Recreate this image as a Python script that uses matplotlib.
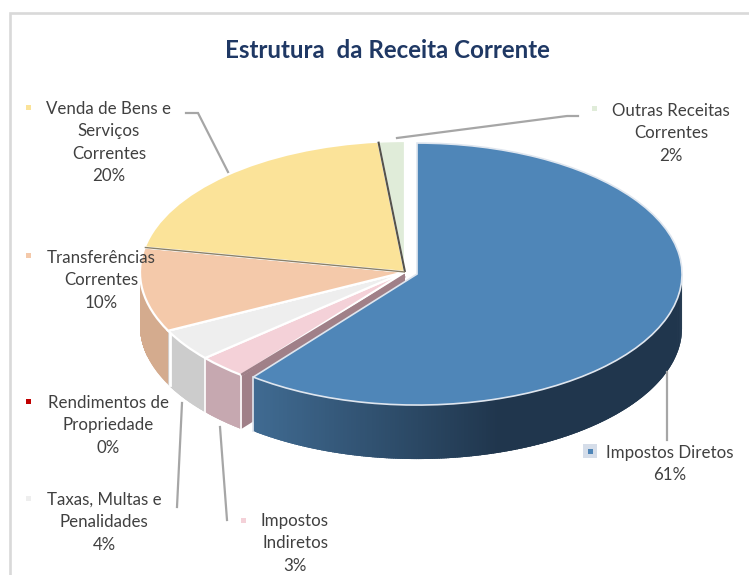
import numpy as np
import matplotlib
matplotlib.use("Agg")
import matplotlib.pyplot as plt
from matplotlib.patches import Polygon, Rectangle
from matplotlib.transforms import Affine2D
from matplotlib.colors import to_rgb

plt.rcParams['font.family'] = ['Lato', 'DejaVu Sans']

title = "Estrutura  da Receita Corrente"
categories = ["Impostos Diretos", "Impostos\nIndiretos", "Taxas, Multas e\nPenalidades",
              "Rendimentos de\nPropriedade", "Transferências\nCorrentes",
              "Venda de Bens e\nServiços\nCorrentes", "Outras Receitas\nCorrentes"]
values = [60.6, 3.0, 4.0, 0.0, 10.4, 20.4, 1.6]
top_colors = ["#4f86b8", "#f4d1d8", "#eeeeee", "#c00000", "#f4c9aa", "#fbe399", "#e0ecd9"]
wall_colors = ["#2f5070", "#c6a8b0", "#cccccc", "#990000", "#d4ab8e", "#c9b577", "#b4c0ae"]
explode = [0.048, 0, 0, 0, 0, 0, 0]

W, H = 749, 575
CX, CY, RX, RY, DEPTH = 405, 272, 265, 131, 54
START = 90.0

fig = plt.figure(figsize=(W / 100, H / 100), dpi=100, facecolor="white")
ax = fig.add_axes([0, 0, 1, 1])

vals = np.array(values, dtype=float)
fracs = vals / vals.sum()
ends = START - 360 * np.cumsum(fracs)
starts = np.r_[START, ends[:-1]]


def center_of(i):
    mid = np.radians((starts[i] + ends[i]) / 2)
    return CX + explode[i] * RX * np.cos(mid), CY - explode[i] * RY * np.sin(mid)


def point(i, deg):
    x0, y0 = center_of(i)
    t = np.radians(deg)
    return x0 + RX * np.cos(t), y0 - RY * np.sin(t)


def wall(i, a1, a2, gradient=None):
    """Outer wall between angles a1 and a2 (degrees), drawn as overlapping strips."""
    grid = np.linspace(a1, a2, int(abs(a2 - a1) * 2) + 2)
    step = grid[1] - grid[0]
    for a in grid[:-1]:
        b = min(a + 2.5 * step, a2)
        (xa, ya), (xb, yb) = point(i, a), point(i, b)
        xm, ym = point(i, (a + b) / 2)
        col = wall_colors[i] if gradient is None else gradient(xm)
        ax.add_patch(Polygon([(xa, ya), (xm, ym), (xb, yb), (xb, yb + DEPTH),
                              (xm, ym + DEPTH), (xa, ya + DEPTH)],
                             closed=True, fc=col, ec="none", zorder=2))


def radial_face(i, deg, color):
    x0, y0 = center_of(i)
    x1, y1 = point(i, deg)
    ax.add_patch(Polygon([(x0, y0), (x1, y1), (x1, y1 + DEPTH), (x0, y0 + DEPTH)],
                         closed=True, fc=color, ec="none", zorder=1.5))


light, dark = np.array(to_rgb("#406b92")), np.array(to_rgb("#20364d"))


def blue_gradient(x):
    t = np.clip((x - 255) / 245, 0, 1)
    return tuple(light + (dark - light) * t)


# inner cut faces exposed by the exploded slice
radial_face(1, starts[1], "#a08088")

# outer walls of the lower half
wall(0, ends[0], 0, blue_gradient)
wall(1, ends[1], starts[1])
wall(2, ends[2], starts[2])
wall(4, starts[4], -180)
for deg in (starts[1], ends[1]):
    x, y = point(1, deg)
    ax.plot([x, x], [y, y + DEPTH], color="white", lw=1.2, zorder=2.5)
x, y = point(0, ends[0])
ax.plot([x, x], [y, y + DEPTH], color="#dfe6ef", lw=1.2, zorder=2.5)
x, y = point(4, starts[4])
ax.plot([x + 1.5, x + 1.5], [y, y + DEPTH], color="white", lw=2, zorder=2.5)

# top surface
wedges, _ = ax.pie(values, colors=top_colors, startangle=START, counterclock=False,
                   explode=explode, radius=1, frame=False,
                   wedgeprops=dict(edgecolor="white", linewidth=1.6, zorder=3))
ellipse = Affine2D().scale(RX, -RY).translate(CX, CY) + ax.transData
for w in wedges:
    w.set_transform(ellipse)
wedges[0].set_edgecolor("#dfe6ef")
wedges[0].set_linewidth(1.2)
wedges[0].set_zorder(3.2)

ax.set_aspect("auto")
ax.set_xlim(0, W)
ax.set_ylim(H, 0)
ax.axis("off")

# dark seams between slices
for i, deg, col, lw in [(6, starts[6], "#55534c", 1.5), (4, ends[4], "#8a8068", 1.0)]:
    x1, y1 = point(i, deg)
    ax.plot([CX, x1], [CY, y1], color=col, lw=lw, zorder=3.1, solid_capstyle="butt")
ax.plot([CX, point(1, starts[1])[0]], [CY + 4, point(1, starts[1])[1]], color="#a08088",
        lw=2, zorder=3.1, solid_capstyle="butt")

# frame
ax.plot([9.5, 9.5, W], [H, 13, 13], color="#d9d9d9", lw=1.9, solid_joinstyle="miter", zorder=1)

# title
ax.text(387, 51, title, ha="center", va="center", fontsize=17.4, fontweight="bold",
        color="#1f3864", zorder=6)

# leader lines
leaders = [[(186, 113), (198, 113), (228, 172)],
           [(578, 116), (567, 116), (397, 138)],
           [(667, 372), (667, 440)],
           [(182, 403), (177, 507)],
           [(220, 427), (227, 520)]]
for pts in leaders:
    xs, ys = zip(*pts)
    ax.plot(xs, ys, color="#a6a6a6", lw=1.6, zorder=4, solid_joinstyle="miter")

# labels: centre x, first line y, key x, key y
placements = {0: (670, 453, 590, 451), 1: (295, 521, 243, 520), 2: (104, 500, 28, 498),
              3: (108, 403, 28, 401), 4: (101, 258, 28, 255), 5: (109, 109, 28, 107),
              6: (671, 111, 594, 108)}
LINE = 22.3
for i, (cx, y0, kx, ky) in placements.items():
    lines = categories[i].split("\n") + [f"{values[i]:.0f}%"]
    for j, s in enumerate(lines):
        ax.text(cx, y0 + j * LINE, s, ha="center", va="center", fontsize=12.2,
                color="#404040", zorder=6)
    if i == 0:
        ax.add_patch(Rectangle((kx - 7, ky - 7), 14, 14, fc="#d5dde9", ec="none", zorder=5))
    ax.add_patch(Rectangle((kx - 2.5, ky - 2.5), 5, 5, fc=top_colors[i], ec="none", zorder=6))

fig.savefig("out.png", dpi=100, facecolor="white")
